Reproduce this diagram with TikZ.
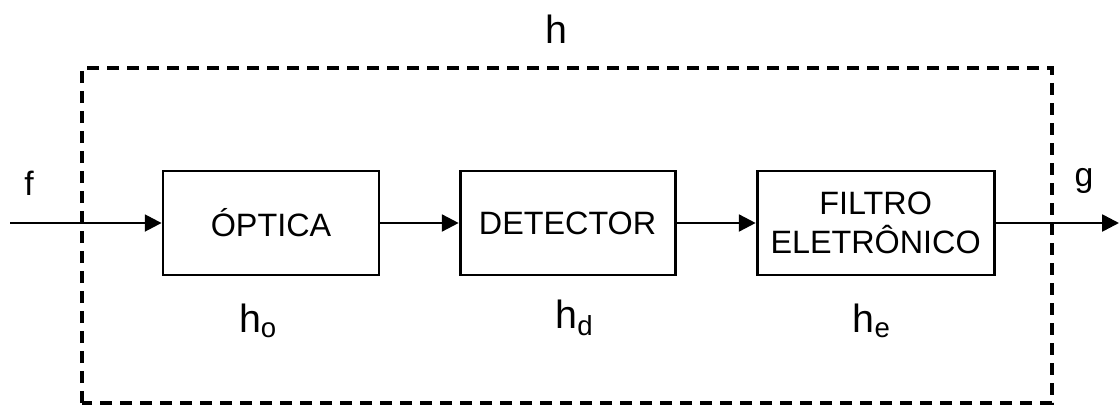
\documentclass[tikz,border=0pt]{standalone}
\usepackage{fontspec}
\setmainfont{Liberation Sans}
\usetikzlibrary{arrows.meta}

\begin{document}
\begin{tikzpicture}[>={Triangle[length=0.42cm,width=0.42cm]},
    blockbox/.style={draw, line width=2pt, minimum height=2.6cm, align=center,
      inner sep=0pt, font=\fontsize{23}{28}\selectfont},
    sig/.style={anchor=base, font=\fontsize{24}{28}\selectfont},
    resp/.style={anchor=base, font=\fontsize{28}{32}\selectfont},
    flow/.style={->, line width=1.8pt}]
  \useasboundingbox (0,0) rectangle (27.975,10.15);
  %% System boundary
  \draw[line width=2.2pt, dash pattern=on 0.3cm off 0.2cm] (2.05,0.075) rectangle (26.3,8.45);
  \node[resp] (h) at (13.9,9.075) {h};
  %% Blocks
  \node[blockbox, minimum width=5.4cm] (optica) at (6.775,4.575) {ÓPTICA};
  \node[blockbox, minimum width=5.375cm] (detector) at (14.19,4.575) {DETECTOR};
  \node[blockbox, minimum width=5.925cm] (filtro) at (21.89,4.575) {FILTRO\\ELETRÔNICO};
  %% Responses
  \node[resp] (ho) at (6.45,1.85) {h\textsubscript{o}};
  \node[resp] (hd) at (14.36,1.95) {h\textsubscript{d}};
  \node[resp] (he) at (21.79,1.85) {h\textsubscript{e}};
  %% Signals
  \coordinate (in) at (0.25,4.575);
  \coordinate (out) at (27.975,4.575);
  \node[sig] (f) at (0.725,5.275) {f};
  \node[sig] (g) at (27.1,5.5) {g};
  \draw[flow] (in) -- (optica);
  \draw[flow] (optica) -- (detector);
  \draw[flow] (detector) -- (filtro);
  \draw[flow] (filtro) -- (out);
\end{tikzpicture}
\end{document}
